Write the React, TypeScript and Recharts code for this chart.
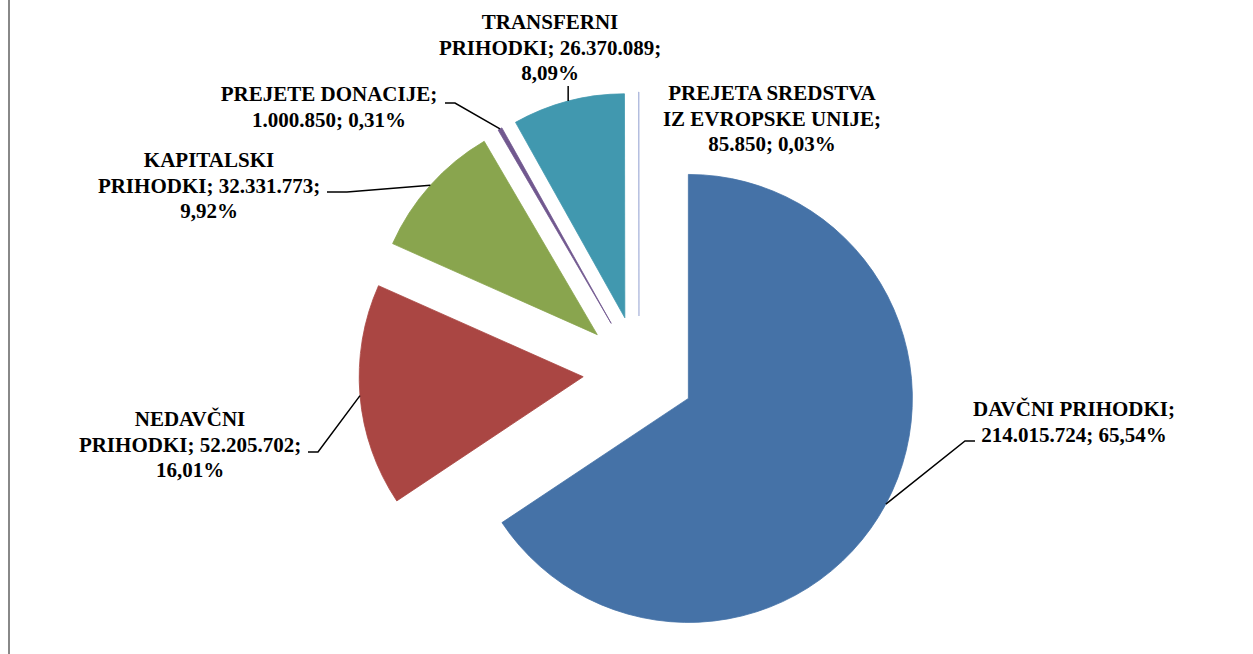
import { PieChart, Pie, Cell, Sector } from 'recharts';

const categories = [
  'DAVČNI PRIHODKI',
  'NEDAVČNI PRIHODKI',
  'KAPITALSKI PRIHODKI',
  'PREJETE DONACIJE',
  'TRANSFERNI PRIHODKI',
  'PREJETA SREDSTVA IZ EVROPSKE UNIJE',
];
const values = [214015724, 52205702, 32331773, 1000850, 26370089, 85850];
// percentages as printed on the original labels
const percentLabels = ['65,54%', '16,01%', '9,92%', '0,31%', '8,09%', '0,03%'];

const COLORS = ['#4572A7', '#AA4643', '#89A54E', '#71588F', '#4198AF', '#A9B5DA'];

const data = categories.map((name, i) => ({ name, value: values[i], pct: percentLabels[i] }));

const CX = 639;
const CY = 372;
const RADIUS = 224;
const EXPLODE = 56;
const FONT = '"Liberation Serif", "Times New Roman", serif';
const LINE_H = 25.5;

// label box placement: centre x, first baseline y, words per line, leader elbow points
const LABEL_LAYOUT = [
  { x: 1074, y: 416, wrap: [2, 2], leader: [[965, 441], [975, 441]] },
  { x: 190, y: 426, wrap: [1, 2, 1], leader: [[318, 452], [308, 452]] },
  { x: 209, y: 167, wrap: [1, 2, 1], leader: [[347, 192], [327, 192]] },
  { x: 329, y: 101, wrap: [2, 2], leader: [[455, 103], [445, 103]] },
  { x: 550, y: 29, wrap: [1, 2, 1], leader: [[null, 86]] },
  { x: 772, y: 100, wrap: [2, 3, 2], leader: [] },
];

const fmt = (n: number) => String(n).replace(/\B(?=(\d{3})+(?!\d))/g, '.');

const RAD = Math.PI / 180;
const offset = (midAngle: number) => ({
  dx: EXPLODE * Math.cos(-midAngle * RAD),
  dy: EXPLODE * Math.sin(-midAngle * RAD),
});

const renderSlice = (props: any) => {
  const { dx, dy } = offset(props.midAngle);
  return <Sector {...props} cx={props.cx + dx} cy={props.cy + dy} />;
};

const renderLabel = (props: any) => {
  const { cx, cy, midAngle, outerRadius, index, name, value, payload } = props;
  const layout = LABEL_LAYOUT[index];
  const words = `${name}; ${fmt(value)}; ${payload?.pct ?? percentLabels[index]}`.split(' ');
  const lines: string[] = [];
  let k = 0;
  layout.wrap.forEach((n) => {
    lines.push(words.slice(k, k + n).join(' '));
    k += n;
  });

  const ax = cx + (outerRadius + EXPLODE) * Math.cos(-midAngle * RAD);
  const ay = cy + (outerRadius + EXPLODE) * Math.sin(-midAngle * RAD);
  const pts = [[ax, ay], ...layout.leader.map(([x, y]) => [x ?? ax, y])];

  return (
    <g key={`lbl-${index}`}>
      {pts.length > 1 && (
        <polyline
          points={pts.map((p) => p.join(',')).join(' ')}
          fill="none"
          stroke="#000"
          strokeWidth={1.5}
        />
      )}
      <text
        x={layout.x}
        y={layout.y}
        textAnchor="middle"
        fontFamily={FONT}
        fontWeight="bold"
        fontSize={21}
        fill="#000"
      >
        {lines.map((l, i) => (
          <tspan key={i} x={layout.x} y={layout.y + i * LINE_H}>
            {l}
          </tspan>
        ))}
      </text>
    </g>
  );
};

export default function App() {
  return (
    <div style={{ position: 'absolute', left: 0, top: 0, width: 1253, height: 654, background: '#fff' }}>
      <div style={{ position: 'absolute', left: 8, top: 0, width: 2, height: 654, background: '#888' }} />
      <PieChart width={1253} height={654} margin={{ top: 0, right: 0, bottom: 0, left: 0 }}>
        <Pie
          data={data}
          dataKey="value"
          nameKey="name"
          cx={CX}
          cy={CY}
          outerRadius={RADIUS}
          startAngle={90}
          endAngle={-270}
          shape={renderSlice}
          label={renderLabel}
          labelLine={false}
          isAnimationActive={false}
        >
          {data.map((d, i) => (
            <Cell key={d.name} fill={COLORS[i]} stroke={COLORS[i]} strokeWidth={0.8} />
          ))}
        </Pie>
      </PieChart>
    </div>
  );
}
